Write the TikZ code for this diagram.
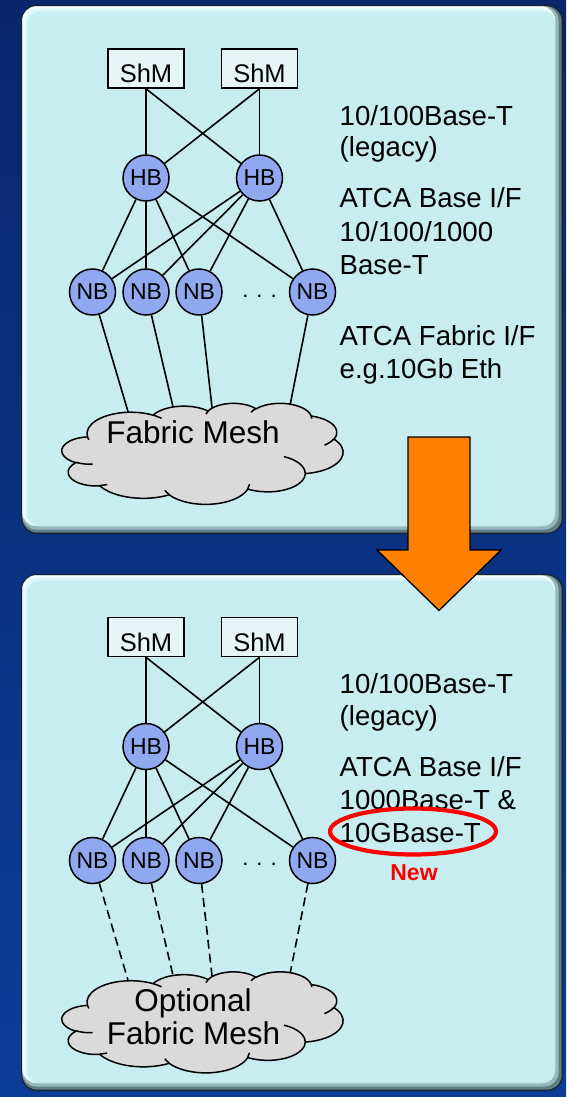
\documentclass[tikz,border=0pt]{standalone}
\usepackage{fontspec}
\setmainfont{Liberation Sans}
\usetikzlibrary{shapes.geometric}

\definecolor{bgtop}{RGB}{9,38,108}
\definecolor{bgbot}{RGB}{13,60,152}
\definecolor{panelfill}{RGB}{199,237,240}
\definecolor{paneledge}{RGB}{25,35,45}
\definecolor{shadowA}{RGB}{95,125,132}
\definecolor{shadowB}{RGB}{150,185,190}
\definecolor{hiA}{RGB}{245,255,255}
\definecolor{hiB}{RGB}{222,247,248}
\definecolor{nodeblue}{RGB}{143,168,240}
\definecolor{boxfill}{RGB}{230,246,246}
\definecolor{cloudgray}{RGB}{218,218,218}
\definecolor{arroworange}{RGB}{255,128,0}
\definecolor{hired}{RGB}{255,0,0}

\newcommand\prepArc[5]{%
  \pgfmathsetmacro\tmpS{atan2((#2)*sin(#4),(#3)*cos(#4))}%
  \pgfmathsetmacro\tmpE{atan2((#2)*sin(#5),(#3)*cos(#5))}%
  \pgfmathsetmacro\tmpD{mod(\tmpE-(\tmpS)+720,360)}%
  \expandafter\let\csname #1S\endcsname\tmpS
  \expandafter\let\csname #1D\endcsname\tmpD}
% outline arcs (office cloud, path space /100)
\prepArc{ca}{67.53}{91.90}{-190.4875}{-66.7070}
\prepArc{cb}{53.33}{72.67}{-144.1024}{-54.1572}
\prepArc{cc}{43.65}{59.45}{-145.8079}{-46.0849}
\prepArc{cd}{48.57}{65.95}{-130.9861}{-13.7444}
\prepArc{ce}{53.33}{72.73}{-78.7089}{30.3180}
\prepArc{cf}{67.75}{92.20}{-46.2673}{84.0017}
\prepArc{cg}{57.85}{78.67}{0.6250}{114.6583}
\prepArc{ch}{67.52}{92.15}{22.4516}{137.6242}
\prepArc{ci}{77.20}{105.43}{66.2426}{141.9536}
\prepArc{cj}{43.60}{59.18}{-274.9421}{-128.2065}
\prepArc{ck}{43.45}{59.45}{-246.8285}{-94.3096}
% inner arcs
\prepArc{qa}{43.45}{59.45}{86.7420}{113.1715}
\prepArc{qb}{43.60}{59.18}{73.6105}{85.0580}
\prepArc{qc}{67.52}{92.15}{137.6242}{151.7053}
\prepArc{qd}{67.52}{92.15}{6.4533}{22.4517}
\prepArc{qe}{57.85}{78.67}{-70.2924}{0.6250}
\prepArc{qf}{53.33}{72.73}{30.3180}{58.0695}
\prepArc{qg}{48.57}{65.95}{-13.7443}{1.1146}
\prepArc{qh}{48.57}{65.95}{-149.1815}{-130.9861}
\prepArc{qi}{43.65}{59.45}{-163.4943}{-145.8079}
\prepArc{qj}{67.53}{91.90}{-66.7070}{-54.3876}
\prepArc{qk}{67.53}{91.90}{157.6544}{169.5126}

\tikzset{
  link/.style={draw=black,line width=1.6pt},
  dashlink/.style={dash pattern=on 9pt off 5pt},
  solidlink/.style={},
  shmbox/.style={draw=black,fill=boxfill,line width=1.6pt,minimum width=76pt,
    text height=29pt,text depth=0pt,inner ysep=5pt,inner xsep=0pt,
    font=\fontsize{25.5}{28}\selectfont},
  bnode/.style={circle,draw=black,fill=nodeblue,line width=1.5pt,minimum size=46pt,
    inner sep=0pt,font=\fontsize{23}{25}\selectfont},
  dotsnode/.style={anchor=base,inner sep=0pt,font=\fontsize{22}{24}\selectfont},
  rtext/.style={anchor=base west,inner sep=0pt,font=\fontsize{27.6}{33}\selectfont},
  cloudtext/.style={anchor=base,inner sep=0pt,font=\fontsize{31.5}{32}\selectfont},
  cloudout/.style={draw=black,fill=cloudgray,line width=1.5pt},
  cloudin/.style={draw=black,line width=1.5pt},
  bigarrow/.style={draw=black,fill=arroworange,line width=1.3pt,line join=miter},
}

\newcommand\bevelpanel[4]{%
  \fill[paneledge,rounded corners=16pt] (#1,#2) rectangle (#3,#4);
  \fill[shadowA,rounded corners=15pt] (#1+1.3,#2+1.3) rectangle (#3-1.3,#4-1.3);
  \fill[shadowB,rounded corners=14pt] (#1+1.3,#2+1.3) rectangle (#3-4.5,#4-4.5);
  \fill[hiA,rounded corners=14pt] (#1+1.3,#2+1.3) rectangle (#3-8,#4-8);
  \fill[hiB,rounded corners=13pt] (#1+3.5,#2+3.5) rectangle (#3-8,#4-8);
  \fill[panelfill,rounded corners=12pt] (#1+6.5,#2+6.5) rectangle (#3-8,#4-8);
}

\newcommand\cloudshape{%
  \begin{scope}[shift={(62,403)},xscale=0.65046,yscale=0.23380]
  \draw[cloudout] (39.00,143.70)
    arc[x radius=67.53,y radius=91.90,start angle=\caS,delta angle=\caD]
    arc[x radius=53.33,y radius=72.67,start angle=\cbS,delta angle=\cbD]
    arc[x radius=43.65,y radius=59.45,start angle=\ccS,delta angle=\ccD]
    arc[x radius=48.57,y radius=65.95,start angle=\cdS,delta angle=\cdD]
    arc[x radius=53.33,y radius=72.73,start angle=\ceS,delta angle=\ceD]
    arc[x radius=67.75,y radius=92.20,start angle=\cfS,delta angle=\cfD]
    arc[x radius=57.85,y radius=78.67,start angle=\cgS,delta angle=\cgD]
    arc[x radius=67.52,y radius=92.15,start angle=\chS,delta angle=\chD]
    arc[x radius=77.20,y radius=105.43,start angle=\ciS,delta angle=\ciD]
    arc[x radius=43.60,y radius=59.18,start angle=\cjS,delta angle=\cjD]
    arc[x radius=43.45,y radius=59.45,start angle=\ckS,delta angle=\ckD]
    -- cycle;
  \draw[cloudin]
    (46.93,261.77) arc[x radius=43.45,y radius=59.45,start angle=\qaS,delta angle=\qaD]
    (69.28,348.99) arc[x radius=43.60,y radius=59.18,start angle=\qbS,delta angle=\qbD]
    (164.78,390.90) arc[x radius=67.52,y radius=92.15,start angle=\qcS,delta angle=\qcD]
    (288.27,347.51) arc[x radius=67.52,y radius=92.15,start angle=\qdS,delta angle=\qdD]
    (341.29,229.54) arc[x radius=57.85,y radius=78.67,start angle=\qeS,delta angle=\qeD]
    (417.98,153.54) arc[x radius=53.33,y radius=72.73,start angle=\qfS,delta angle=\qfD]
    (383.24,54.26) arc[x radius=48.57,y radius=65.95,start angle=\qgS,delta angle=\qgD]
    (290.78,39.52) arc[x radius=48.57,y radius=65.95,start angle=\qhS,delta angle=\qhD]
    (221.41,47.20) arc[x radius=43.65,y radius=59.45,start angle=\qiS,delta angle=\qiD]
    (140.00,51.92) arc[x radius=67.53,y radius=91.90,start angle=\qjS,delta angle=\qjD]
    (41.27,157.89) arc[x radius=67.53,y radius=91.90,start angle=\qkS,delta angle=\qkD];
  \end{scope}}

\newcommand\netw[2]{%
  \node[shmbox] (#1s1) at (146,68.5) {ShM};
  \node[shmbox] (#1s2) at (259.5,68.5) {ShM};
  \node[bnode] (#1h1) at (146,178) {HB};
  \node[bnode] (#1h2) at (259.5,178) {HB};
  \node[bnode] (#1n1) at (92.5,292) {NB};
  \node[bnode] (#1n2) at (146,292) {NB};
  \node[bnode] (#1n3) at (199,292) {NB};
  \node[bnode] (#1n4) at (312.5,292) {NB};
  \node[dotsnode] (#1dots) at (259.5,297) {.\hspace{8pt}.\hspace{8pt}.};
  \coordinate (#1c1) at (129,415);
  \coordinate (#1c2) at (173.5,409);
  \coordinate (#1c3) at (212.3,410);
  \coordinate (#1c4) at (289.8,406.5);
  \draw[link] (#1s1.south) -- (#1h1);
  \draw[link] (#1s1.south) -- (#1h2);
  \draw[link] (#1s2.south) -- (#1h1);
  \draw[link] (#1s2.south) -- (#1h2);
  \foreach \hh in {1,2}{\foreach \nn in {1,2,3,4}{\draw[link] (#1h\hh) -- (#1n\nn);}}
  \foreach \nn in {1,2,3,4}{\draw[link,#2] (#1n\nn) -- (#1c\nn);}
  \cloudshape
}

\begin{document}
\begin{tikzpicture}[x=1pt,y=1pt,yscale=-1]
\useasboundingbox (0,0) rectangle (566,1097);
\shade[top color=bgtop,bottom color=bgbot] (0,0) rectangle (566,1097);

\bevelpanel{21}{5}{563}{534}
\bevelpanel{21}{574}{563}{1091}

% top panel
\netw{t}{solidlink}
\node[cloudtext] (tmesh) at (193,443) {Fabric Mesh};
\node[rtext] (lab1) at (339.5,125.5) {10/100Base-T};
\node[rtext] (lab2) at (339.5,157) {(legacy)};
\node[rtext] (lab3) at (339.5,207.5) {ATCA Base I/F};
\node[rtext] (lab4) at (339.5,241) {10/100/1000};
\node[rtext] (lab5) at (339.5,274) {Base-T};
\node[rtext] (lab6) at (339.5,345) {ATCA Fabric I/F};
\node[rtext] (lab7) at (339.5,378) {e.g.10Gb Eth};

% bottom panel
\begin{scope}[shift={(0,568.5)}]
\netw{b}{dashlink}
\node[cloudtext] (bmesh1) at (193,443.2) {Optional};
\node[cloudtext] (bmesh2) at (193.5,475.5) {Fabric Mesh};
\end{scope}
\node[rtext] (lab8) at (339.5,693.5) {10/100Base-T};
\node[rtext] (lab9) at (339.5,725.5) {(legacy)};
\node[rtext] (lab10) at (339.5,776) {ATCA Base I/F};
\node[rtext] (lab11) at (339.5,809) {1000Base-T \&};
\node[rtext] (lab12) at (339.5,842) {10GBase-T};
\node[ellipse,draw=hired,line width=4.2pt,minimum width=166pt,minimum height=46pt,inner sep=0pt] (hl) at (413,831.5) {};
\node[anchor=base,inner sep=0pt,text=hired,font=\fontsize{23}{25}\selectfont\bfseries] (newlab) at (414,880) {New};

% transition arrow
\draw[bigarrow] (408,437) -- (470,437) -- (470,550) -- (501,550) -- (439,610.5) -- (377,550) -- (408,550) -- cycle;
\end{tikzpicture}
\end{document}
